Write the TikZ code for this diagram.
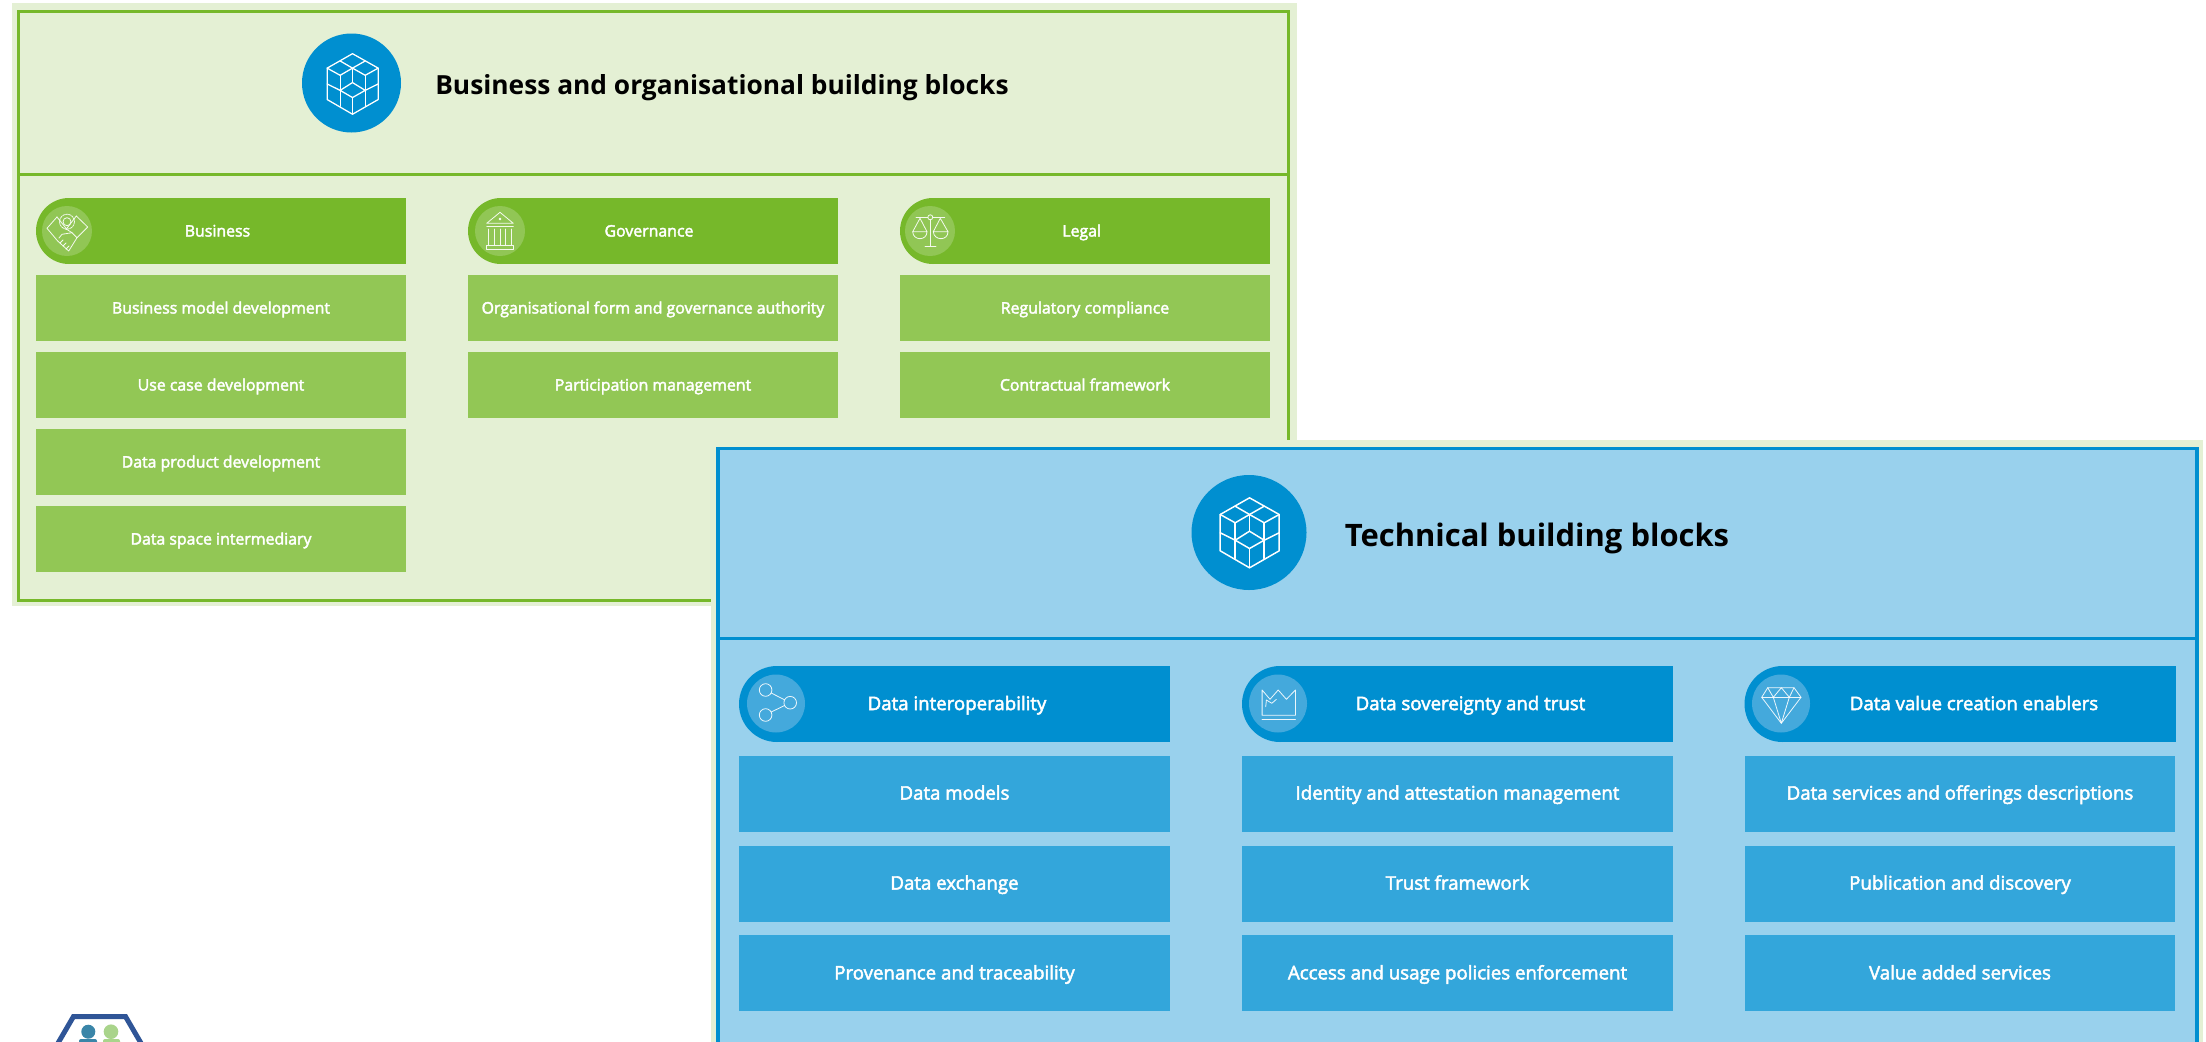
\documentclass[tikz,border=0pt]{standalone}
\usepackage{fontspec}
\setmainfont{Open Sans}
\newfontfamily\semif[FakeBold=2.6]{Open Sans}
\definecolor{gpanel}{HTML}{E4F0D4}
\definecolor{gmain}{HTML}{76B82A}
\definecolor{grow}{HTML}{92C755}
\definecolor{bpanel}{HTML}{99D1ED}
\definecolor{bmain}{HTML}{008FD0}
\definecolor{brow}{HTML}{33A6DB}
\definecolor{ginner}{HTML}{91C655}
\definecolor{binner}{HTML}{44A9DC}
\definecolor{logoblue}{HTML}{2F5597}
\definecolor{logoteal}{HTML}{3A85A8}
\definecolor{logogreen}{HTML}{A9D48B}
\tikzset{
  grect/.style={fill=grow,text=white,minimum width=277.5pt,minimum height=49.5pt,inner sep=0pt,text height=10.7pt,text depth=2.4pt,font=\semif\fontsize{11.9pt}{13pt}\selectfont},
  brect/.style={fill=brow,text=white,minimum width=323.2pt,minimum height=57pt,inner sep=0pt,text height=12.1pt,text depth=3pt,font=\semif\fontsize{14pt}{16pt}\selectfont},
  ghead/.style={text=white,inner sep=0pt,text height=10.7pt,text depth=2.4pt,font=\semif\fontsize{11.9pt}{13pt}\selectfont},
  bhead/.style={text=white,inner sep=0pt,text height=12.1pt,text depth=3pt,font=\semif\fontsize{14pt}{16pt}\selectfont},
  titleg/.style={text=black,inner sep=0pt,text height=20pt,text depth=4pt,font=\bfseries\fontsize{19.75pt}{22pt}\selectfont},
  titleb/.style={text=black,inner sep=0pt,text height=22.5pt,text depth=4.5pt,font=\bfseries\fontsize{23.2pt}{26pt}\selectfont},
  iconthin/.style={draw=white,line width=0.6pt,line join=round,line cap=round,opacity=0.9},
  iconcube/.style={draw=white,line join=round,line cap=round},
}
\newcommand{\gbar}[2]{% x0, inner circle centre
  \fill[gmain] (#1+33,231) circle[radius=33];
  \fill[gmain] (#1+33,198) rectangle (#1+370,264);
  \fill[ginner] (#2,231) circle[radius=25];
}
\newcommand{\bbar}[2]{%
  \fill[bmain] (#1+38,704) circle[radius=38];
  \fill[bmain] (#1+38,666) rectangle (#1+431,742);
  \fill[binner] (#2,703.5) circle[radius=29];
}
\newcommand{\cubeicon}[4]{%
  \begin{scope}[shift={(#1,#2)},scale=#3,iconcube,line width=#4]
    \draw (0,-34.7) -- (29.7,-18) -- (29.7,18.3) -- (0,35.3) -- (-29.3,18.3) -- (-29.3,-18) -- cycle;
    \draw (-29.3,-18) -- (-14.3,-9.7) -- (0,-18) -- (14.7,-9.7) -- (29.7,-18);
    \draw (-14.3,-26.3) -- (0,-18) -- (14.7,-26.3);
    \draw (0,-18) -- (0,-1.3);
    \draw (-14.3,-9.7) -- (-14.3,26);
    \draw (14.7,-9.7) -- (14.7,26);
    \draw (0,-1.3) -- (-14.3,7.7) -- (0,16) -- (14.7,7.7) -- cycle;
    \draw (0,16) -- (0,35.3);
    \draw (-29.3,0.3) -- (-14.3,7.7);
    \draw (29.7,0.3) -- (14.7,7.7);
  \end{scope}
}
\begin{document}
\begin{tikzpicture}[x=0.75pt,y=-0.75pt]
\clip (0,0) rectangle (2206,1042);
\fill[white] (0,0) rectangle (2206,1042);
% ---------- green panel
\fill[gpanel] (12,3) rectangle (1297,606);
\draw[gmain,line width=2.25pt] (18.5,11.5) rectangle (1288,600);
\draw[gmain,line width=2.25pt] (18.5,174.5) -- (1288,174.5);
\fill[bmain] (351.5,83) circle[radius=49.5];
\cubeicon{352.5}{83.7}{0.865}{0.95pt}
\node[titleg] (tg) at (722,84) {Business and organisational building blocks};
\gbar{36}{67}
\gbar{468}{500}
\gbar{900}{930}
\node[ghead] (hbiz) at (217.5,231) {Business};
\node[ghead] (hgov) at (649,231) {Governance};
\node[ghead] (hleg) at (1081.7,231) {Legal};
\node[grect] (g11) at (221,308) {Business model development};
\node[grect] (g12) at (221,385) {Use case development};
\node[grect] (g13) at (221,462) {Data product development};
\node[grect] (g14) at (221,539) {Data space intermediary};
\node[grect] (g21) at (653,308) {Organisational form and governance authority};
\node[grect] (g22) at (653,385) {Participation management};
\node[grect] (g31) at (1085,308) {Regulatory compliance};
\node[grect] (g32) at (1085,385) {Contractual framework};
% business icon
\draw[iconthin] (67,221.7) circle[radius=4];
\draw[iconthin,dash pattern=on 1.6pt off 0.7pt] (67,221.7) circle[radius=7.5];
\draw[iconthin] (57,217) -- (47,228.3) -- (57.7,241) -- (68.7,251) -- (77,237.7) -- (87.7,227) -- (76.3,216);
\draw[iconthin] (57,217) -- (67,229.5) -- (72,232.7) -- (77,237.7) (76.3,216) -- (66,229.5);
\draw[iconthin] (59,238) -- (62,234.3) -- (72,232.7);
\draw[iconthin] (60,243) -- (63,240) (63,246) -- (66,243) (66,249) -- (69,246);
% governance icon
\draw[iconthin] (486.7,223.3) -- (500,212.3) -- (513.3,223.3) -- cycle;
\fill[white] (500,219) circle[radius=1.3];
\draw[iconthin] (486.7,226) -- (513.3,226);
\draw[iconthin] (488.3,229) -- (488.3,245) (494,229) -- (494,245) (500,229) -- (500,245) (505.7,229) -- (505.7,245) (511.7,229) -- (511.7,245);
\draw[iconthin] (486.7,245.7) rectangle (513.3,249.5);
% legal icon
\draw[iconthin] (930.3,219.8) -- (930.3,246) (925,246) -- (936,246);
\draw[iconthin] (930.3,217.3) circle[radius=2.5];
\draw[iconthin] (916,217.3) -- (927.8,217.3) (932.8,217.3) -- (944.7,217.3);
\draw[iconthin] (912.7,231.7) -- (920,218.3) -- (927,231.7) -- cycle;
\draw[iconthin] (912.7,231.7) .. controls (913,241) and (927,241) .. (927,231.7);
\draw[iconthin] (933.3,231.7) -- (940.3,218.3) -- (948,231.7) -- cycle;
\draw[iconthin] (933.3,231.7) .. controls (934,241) and (948,241) .. (948,231.7);
% ---------- blue panel
\fill[gpanel] (711,440) rectangle (2203,1042);
\fill[bpanel] (718,448.5) rectangle (2197,1042);
\draw[bmain,line width=2.6pt] (718.2,1050) -- (718.2,448.5) -- (2197,448.5) -- (2197,1050);
\draw[bmain,line width=2.4pt] (718.2,638.5) -- (2197,638.5);
\fill[bmain] (1249,532.5) circle[radius=57.5];
\cubeicon{1249.5}{532.5}{1}{1.1pt}
\node[titleb] (tb) at (1537,534) {Technical building blocks};
\bbar{739}{776}
\bbar{1242}{1278}
\bbar{1744.5}{1781}
\node[bhead] (hint) at (957,704) {Data interoperability};
\node[bhead] (hsov) at (1470.5,704) {Data sovereignty and trust};
\node[bhead] (hval) at (1974,704) {Data value creation enablers};
\node[brect] (b11) at (954.5,793.5) {Data models};
\node[brect] (b12) at (954.5,883.5) {Data exchange};
\node[brect] (b13) at (954.5,973.3) {Provenance and traceability};
\node[brect] (b21) at (1457.5,793.5) {Identity and attestation management};
\node[brect] (b22) at (1457.5,883.5) {Trust framework};
\node[brect] (b23) at (1457.5,973.3) {Access and usage policies enforcement};
\node[brect] (b31) at (1960,793.5) {Data services and offerings descriptions};
\node[brect] (b32) at (1960,883.5) {Publication and discovery};
\node[brect] (b33) at (1960,973.3) {Value added services};
% interoperability icon
\draw[iconthin] (765.6,690) circle[radius=6.3] (790.2,702.7) circle[radius=6.3] (765.6,715) circle[radius=6.3];
\draw[iconthin] (771.2,693) -- (784.6,699.8) (784.6,705.5) -- (771.2,712);
% crown icon
\draw[iconthin] (1262.1,690) -- (1262.1,715.3) -- (1295.4,715.3) -- (1295.4,690) -- (1286.4,699.3) -- (1278.2,690) -- (1270,699.3) -- cycle;
\draw[iconthin] (1262.1,719.3) -- (1295.4,719.3);
\draw[iconthin] (1265.7,706.7) -- (1266.4,700) -- (1271.8,703.3) -- (1276.4,699.3);
% diamond icon
\draw[iconthin] (1767.7,687.7) -- (1794,687.7) -- (1801,697.3) -- (1781.3,723.3) -- (1761.7,697.3) -- cycle;
\draw[iconthin] (1761.7,697.3) -- (1801,697.3);
\draw[iconthin] (1767.7,687.7) -- (1773.3,697.3) -- (1781.3,687.7) -- (1789.3,697.3) -- (1794,687.7);
\draw[iconthin] (1773.3,697.3) -- (1781.3,723.3) -- (1789.3,697.3);
% ---------- logo fragment
\draw[logoblue,line width=3.75pt,line join=miter] (54,1050) -- (73.5,1016.5) -- (125.5,1016.5) -- (145,1050);
\fill[logoteal] (88.3,1031.7) circle[radius=7];
\fill[logogreen] (111,1031.7) circle[radius=7.3];
\fill[logoteal,rounded corners=1.5pt] (79,1046) rectangle (97,1039);
\fill[logogreen,rounded corners=1.5pt] (103,1046) rectangle (120,1039);
\end{tikzpicture}
\end{document}
